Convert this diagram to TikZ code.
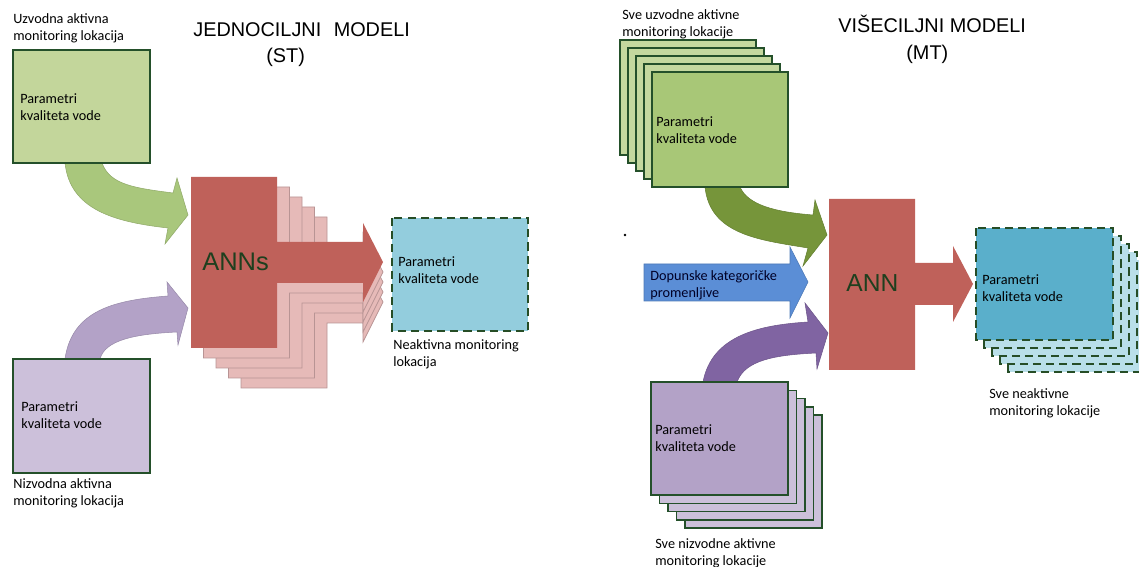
\documentclass[tikz,border=0pt]{standalone}
\usepackage{fontspec}
\setmainfont{Carlito}
\newfontfamily\arialf{Liberation Sans}
\definecolor{gbox}{HTML}{C3D69B}
\definecolor{gborder}{HTML}{24502A}
\definecolor{garrowL}{HTML}{A9C77C}
\definecolor{gfront}{HTML}{A8C777}
\definecolor{gback}{HTML}{C4D89E}
\definecolor{garrowR}{HTML}{76953A}
\definecolor{annred}{HTML}{BF615A}
\definecolor{pinkc}{HTML}{E6BAB8}
\definecolor{pinkb}{HTML}{B89494}
\definecolor{bluebox}{HTML}{93CDDD}
\definecolor{bluefront}{HTML}{5AAFCB}
\definecolor{blueback}{HTML}{B9DFE9}
\definecolor{purplebox}{HTML}{CCC0DA}
\definecolor{purplearrowL}{HTML}{B3A2C7}
\definecolor{purplefront}{HTML}{B3A2C7}
\definecolor{purplearrowR}{HTML}{8064A2}
\definecolor{bluearrow}{HTML}{5B8ED6}
\definecolor{anntext}{HTML}{1E3F1E}
\definecolor{dashcol}{HTML}{264D26}
\newcommand\redblock[4]{%
  \path[#1] (#2,{177+#4}) -- (#3,{177+#4}) -- (#3,{242+#4}) -- (363,{242+#4})
    -- (363,{223+#4}) -- (383,{262+#4}) -- (363,{302+#4}) -- (363,{283+#4})
    -- (#3,{283+#4}) -- (#3,{348+#4}) -- (#2,{348+#4}) -- cycle;}
\begin{document}
\begin{tikzpicture}[x=0.02cm,y=-0.02cm,
  lbl/.style={font=\fontsize{8.1}{9.7}\selectfont, align=left, anchor=north west, inner sep=0pt},
  title/.style={font=\arialf\fontsize{11.3}{13}\selectfont, anchor=base west, inner sep=0pt},
  annlbl/.style={font=\arialf\fontsize{14.5}{16}\selectfont, text=anntext, anchor=base west, inner sep=0pt},
  solidbox/.style={draw=gborder, line width=0.85pt},
  dashbox/.style={draw=dashcol, line width=1.4pt, dash pattern=on 4.6pt off 2.9pt},
  pinkcopy/.style={fill=pinkc, draw=pinkb, line width=0.4pt},
  shapeedge/.style={line width=0.3pt}
]
\path[use as bounding box] (0,0) rectangle (1139,567);

% ================= LEFT: single-target =================
\node[title] (titleST) at (193,37) {JEDNOCILJNI\hspace{0.35em} MODELI};
\node[title] (st) at (266,63) {(ST)};

% green curved arrow
\path[fill=garrowL, draw=garrowL!85!black, shapeedge] (65,163) -- (102,163)
  .. controls (110,185) and (135,188) .. (173,193) -- (177,178) -- (188,215)
  -- (165,244) -- (168,228) .. controls (115,222) and (70,210) .. (65,163) -- cycle;
% purple curved arrow
\path[fill=purplearrowL, draw=purplearrowL!85!black, shapeedge] (65,359)
  .. controls (72,310) and (115,300) .. (168,296) -- (167,282) -- (188,308)
  -- (178,345) -- (177,332) .. controls (135,334) and (105,340) .. (100,359) -- cycle;

% upstream box
\path[fill=gbox, solidbox] (13,50) rectangle (150,163);
\node[lbl] (up) at (13,13) {Uzvodna aktivna\\monitoring lokacija};
\node[lbl] (upp) at (20,93) {Parametri\\kvaliteta vode};

% downstream box
\path[fill=purplebox, solidbox] (13,359) rectangle (150,473);
\node[lbl] (downp) at (21,401) {Parametri\\kvaliteta vode};
\node[lbl] (down) at (13,478) {Nizvodna aktivna\\monitoring lokacija};

% ANNs block with copies
\foreach \k in {4,3,2,1}{%
  \pgfmathsetmacro\Lx{191+12.5*\k}%
  \pgfmathsetmacro\Rx{277+12.5*\k}%
  \pgfmathsetmacro\dy{10*\k}%
  \redblock{pinkcopy}{\Lx}{\Rx}{\dy}%
}
\redblock{fill=annred}{191}{277}{0}
\node[annlbl] (anns) at (202,271) {ANNs};

% target box
\path[fill=bluebox, dashbox] (392,218) rectangle (528,331);
\node[lbl] (tp) at (398,256) {Parametri\\kvaliteta vode};
\node[lbl] (tl) at (393,339) {Neaktivna monitoring\\lokacija};

% ================= RIGHT: multi-target =================
\node[title] (titleMT) at (838,33) {VIŠECILJNI MODELI};
\node[title] (mt) at (906,60) {(MT)};

\fill (625,235) circle (1.3);

% blue arrow
\path[fill=bluearrow, draw=bluearrow!85!black, shapeedge] (644,264) -- (790,264) -- (790,247)
  -- (808,282) -- (790,318) -- (790,301) -- (644,301) -- cycle;
\node[lbl, text=black!85!blue] (cat) at (650,270) {Dopunske kategoričke\\promenljive};

% green curved arrow (dark)
\path[fill=garrowR, draw=garrowR!85!black, shapeedge] (705,187)
  .. controls (710,235) and (760,240) .. (808,248) -- (803,266) -- (827,235)
  -- (815,200) -- (813,215) .. controls (775,212) and (748,205) .. (740,187) -- cycle;
% purple curved arrow (dark)
\path[fill=purplearrowR, draw=purplearrowR!85!black, shapeedge] (703,382)
  .. controls (712,335) and (760,325) .. (808,322) -- (805,303) -- (828,333)
  -- (817,369) -- (816,353) .. controls (775,355) and (745,360) .. (737,382) -- cycle;

% green stack
\foreach \k in {0,1,2,3}{%
  \path[fill=gback, solidbox] ({620+8*\k},{40+8*\k}) rectangle ({756+8*\k},{155+8*\k});
}
\path[fill=gfront, solidbox] (652,72) rectangle (788,187);
\node[lbl] (sup) at (622,9) {Sve uzvodne aktivne\\monitoring lokacije};
\node[lbl] (supp) at (656,116) {Parametri\\kvaliteta vode};

% purple stack
\foreach \k in {4,3,2,1}{%
  \path[fill=purplebox, solidbox] ({651+8.5*\k},{382+8.3*\k}) rectangle ({788+8.5*\k},{495+8.3*\k});
}
\path[fill=purplefront, solidbox] (651,382) rectangle (788,495);
\node[lbl] (sdp) at (655,424) {Parametri\\kvaliteta vode};
\node[lbl] (sd) at (655,538) {Sve nizvodne aktivne\\monitoring lokacije};

% ANN block
\path[fill=annred] (829,199) -- (915,199) -- (915,263) -- (953,263) -- (953,246)
  -- (973,284) -- (953,322) -- (953,305) -- (915,305) -- (915,370) -- (829,370) -- cycle;
\node[annlbl, font=\arialf\fontsize{14}{16}\selectfont] (ann) at (846,292) {ANN};

% target stack
\foreach \k in {4,3,2,1}{%
  \path[fill=blueback, dashbox] ({976+8*\k},{228+8*\k}) rectangle ({1113+8*\k},{340+8*\k});
}
\path[fill=bluefront, dashbox] (976,228) rectangle (1113,340);
\node[lbl] (stp) at (982,274) {Parametri\\kvaliteta vode};
\node[lbl] (st2) at (989,388) {Sve neaktivne\\monitoring lokacije};
\end{tikzpicture}
\end{document}
